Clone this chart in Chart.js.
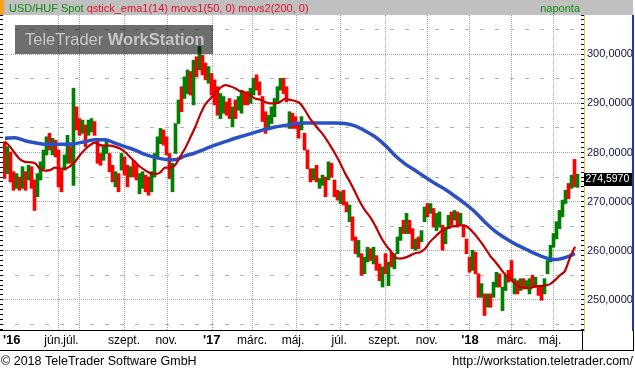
<!DOCTYPE html>
<html>
<head>
<meta charset="utf-8">
<title>USD/HUF Spot</title>
<script src="https://cdn.jsdelivr.net/npm/chart.js@4.4.1/dist/chart.umd.min.js"></script>
<style>
  html, body { margin: 0; padding: 0; background: #fff; }
  canvas { display: block; }
</style>
</head>
<body>
<canvas id="usdhuf" width="635" height="368"></canvas>
<script>
// one bar = 3 trading days, drawn from its first to its last quote
const barOpen = [
  282.2, 275.7, 280.1, 276.1, 272.7, 275.0, 272.7, 276.1, 274.4, 277.1,
  274.4, 271.0, 274.4, 276.7, 279.5, 283.9, 279.5, 282.5, 280.5, 276.4,
  276.4, 277.8, 281.2, 273.3, 289.3, 286.9, 283.9, 285.6, 283.5, 284.2,
  286.3, 282.5, 279.8, 278.4, 279.8, 279.8, 277.4, 273.0, 275.7, 276.4,
  279.1, 277.4, 275.0, 278.4, 277.4, 271.6, 272.7, 275.4, 275.0, 272.0,
  275.0, 279.1, 281.8, 284.6, 283.2, 279.8, 272.0, 279.8, 285.9, 293.4,
  291.0, 292.0, 296.5, 289.7, 299.5, 296.8, 299.8, 298.2, 294.1, 296.1,
  294.8, 293.4, 286.9, 288.0, 290.3, 291.0, 285.2, 290.7, 288.6, 288.0,
  292.0, 292.4, 290.0, 291.7, 295.8, 294.4, 291.4, 288.3, 284.6, 285.9,
  287.3, 290.0, 292.7, 295.1, 293.4, 284.9, 288.0, 287.3, 285.9, 284.6,
  283.9, 280.5, 276.7, 274.4, 277.4, 272.7, 273.3, 275.0, 274.4, 277.8,
  274.4, 272.3, 269.6, 272.3, 269.9, 265.9, 266.9, 262.8, 258.7, 259.4,
  255.3, 257.7, 260.4, 257.3, 259.0, 257.3, 252.6, 259.4, 252.9, 259.7,
  256.3, 259.4, 262.1, 266.2, 263.5, 266.2, 264.5, 260.1, 262.8, 261.8,
  265.9, 269.6, 267.6, 268.6, 264.1, 264.8, 265.2, 261.4, 264.5, 267.9,
  266.2, 267.9, 265.5, 265.2, 262.4, 258.7, 256.0, 259.7, 255.3, 250.5,
  251.2, 248.5, 251.2, 250.5, 252.6, 255.3, 247.8, 251.9, 256.0, 258.0,
  251.2, 253.9, 251.9, 254.3, 252.2, 251.2, 255.0, 252.6, 252.9, 252.6,
  251.2, 255.3, 257.7, 260.7, 262.4, 264.5, 266.9, 269.6, 273.7, 272.7,
  278.6, 272.9
];
const barClose = [
  274.7, 281.2, 274.0, 272.3, 275.7, 272.3, 277.1, 272.3, 277.4, 272.7,
  268.2, 275.7, 278.1, 280.5, 283.2, 280.5, 282.9, 279.1, 273.0, 272.0,
  279.5, 283.5, 277.8, 293.1, 284.6, 283.5, 286.6, 281.2, 286.6, 286.9,
  283.5, 277.8, 277.4, 281.2, 282.5, 276.1, 274.0, 276.1, 272.0, 279.8,
  275.4, 273.0, 277.1, 275.0, 274.4, 275.7, 276.1, 272.0, 271.3, 276.1,
  279.8, 283.2, 284.9, 281.5, 279.5, 274.7, 277.8, 285.9, 290.7, 288.3,
  295.4, 296.8, 291.7, 298.8, 295.4, 301.6, 295.8, 294.8, 297.5, 291.7,
  289.7, 287.6, 292.0, 291.4, 287.6, 286.9, 289.3, 286.9, 291.4, 292.7,
  289.7, 289.7, 293.1, 295.1, 292.7, 291.7, 286.3, 283.9, 287.6, 289.3,
  291.0, 293.4, 295.1, 292.0, 290.3, 288.3, 284.9, 284.9, 282.9, 287.3,
  280.5, 276.7, 274.0, 276.7, 274.0, 274.7, 275.4, 271.0, 278.1, 275.0,
  271.0, 270.3, 272.0, 269.3, 267.9, 269.3, 262.1, 259.4, 262.1, 255.0,
  258.7, 260.7, 258.0, 260.7, 256.0, 253.9, 256.7, 255.3, 257.7, 256.7,
  259.4, 262.8, 264.8, 263.5, 267.6, 263.5, 260.4, 262.4, 260.4, 264.1,
  268.9, 266.9, 269.6, 264.8, 267.6, 267.9, 260.1, 264.8, 267.2, 265.2,
  268.2, 264.8, 267.6, 262.8, 259.4, 255.6, 260.1, 255.3, 250.5, 253.3,
  246.8, 251.2, 248.5, 253.6, 255.6, 252.6, 252.6, 255.0, 253.6, 253.9,
  254.3, 251.2, 254.3, 252.2, 253.9, 254.3, 252.6, 254.6, 250.9, 249.9,
  254.3, 258.0, 261.1, 263.5, 265.9, 268.2, 270.3, 272.3, 270.6, 275.4,
  273.0, 275.6
];
// movs1(50) read every 5 trading days, movs2(200) every 10
const movs50 = [
  282.2, 281.2, 279.8, 278.6, 278.1, 278.0, 277.8, 276.7, 276.3, 276.4,
  276.9, 276.7, 276.7, 277.2, 278.1, 279.5, 280.6, 281.5, 282.0, 281.5,
  281.4, 281.4, 281.2, 280.8, 280.1, 279.1, 278.1, 277.1, 276.4, 275.8,
  275.6, 275.9, 276.9, 276.9, 277.4, 279.1, 280.8, 282.9, 285.1, 287.6,
  289.7, 290.9, 292.0, 293.1, 293.7, 293.5, 293.1, 292.5, 292.2, 291.7,
  291.0, 290.8, 290.3, 290.0, 290.0, 290.3, 290.9, 290.7, 290.5, 290.0,
  288.6, 286.9, 285.6, 284.4, 283.1, 281.5, 279.8, 277.9, 275.8, 274.0,
  272.0, 269.9, 268.2, 266.9, 265.2, 263.1, 261.4, 260.1, 258.7, 258.4,
  258.6, 259.0, 259.5, 259.7, 260.4, 261.8, 262.8, 263.8, 264.3, 264.8,
  265.0, 265.2, 265.1, 264.4, 263.3, 262.0, 260.6, 259.0, 257.8, 256.5,
  255.2, 254.3, 253.3, 252.6, 252.5, 252.4, 252.7, 252.8, 252.9, 253.2,
  254.0, 255.0, 255.9, 258.6, 260.8
];
const movs200 = [
  282.9, 283.0, 282.4, 282.0, 281.7, 281.7, 281.7, 281.8, 282.2, 282.6,
  282.6, 281.9, 281.2, 280.5, 279.6, 279.0, 278.6, 278.5, 279.3, 279.9,
  280.7, 281.5, 282.2, 282.9, 283.5, 284.1, 284.7, 285.2, 285.5, 285.9,
  286.0, 286.0, 286.0, 286.0, 285.9, 285.4, 284.4, 283.2, 281.5, 279.4,
  277.7, 276.4, 275.0, 273.7, 272.5, 271.1, 269.6, 267.9, 265.8, 264.0,
  262.6, 261.4, 260.4, 259.4, 258.6, 258.2, 258.6, 259.4
];
const lastPrice = 274.597;

// trading-day index of month starts and of the axis captions
const gridDays = [55, 77, 121, 164, 209, 249, 293, 337, 382, 424, 466, 508, 550];
const labelDays = [8.7, 51, 68, 121, 163.3, 208.7, 249, 290, 336.2, 381.2, 423.7, 467, 508.7, 547];
const labelTexts = ["'16", 'jún.', 'júl.', 'szept.', 'nov.', "'17", 'márc.', 'máj.', 'júl.', 'szept.', 'nov.', "'18", 'márc.', 'máj.'];
const priceTicks = [250, 260, 270, 280, 290, 300];
const halfTicks = [245, 255, 265, 275, 285, 295, 305];

const barDays = 3;
const maStart = 2;
const yMin = 243.65, yMax = 308;
const FONT = "'Liberation Sans', Arial, sans-serif";
Chart.defaults.font.family = FONT;

const unitTicks = [];
for (let v = 244; v <= 308; v++) unitTicks.push(v);

function fixSize(size) {
  return (s) => {
    if (s.isHorizontal()) s.height = size; else s.width = size;
    s.paddingLeft = s.paddingRight = s.paddingTop = s.paddingBottom = 0;
  };
}
function useTicks(values) {
  return (s) => { s.ticks = values.map((v) => ({ value: v })); };
}

const candles = barOpen.map((o, i) => ({ x: i * barDays + barDays / 2, y: [o, barClose[i]] }));
const barColors = barOpen.map((o, i) => (barClose[i] >= o ? '#008000' : '#ff0000'));

const decor = {
  id: 'decor',
  beforeDraw(chart) {
    const c = chart.ctx;
    c.save();
    c.fillStyle = '#ffffff';
    c.fillRect(0, 0, chart.width, chart.height);
    c.fillStyle = '#c0c0c0';
    c.fillRect(0, 0, 633, 15);
    c.fillStyle = '#f4a21c';
    c.fillRect(0, 0, 4, 15);
    c.font = '11px ' + FONT;
    c.textBaseline = 'alphabetic';
    c.fillStyle = '#138a13';
    c.fillText('USD/HUF Spot', 9, 12);
    const w = c.measureText('USD/HUF Spot ').width;
    c.fillStyle = '#e4112b';
    c.fillText('qstick_ema1(14) movs1(50, 0) movs2(200, 0)', 9 + w, 12);
    c.fillStyle = '#138a13';
    c.textAlign = 'right';
    c.fillText('naponta', 580, 12);
    c.font = '12.5px ' + FONT;
    c.fillStyle = '#000';
    c.textAlign = 'left';
    c.fillText('\u00a9 2018 TeleTrader Software GmbH', 1, 365);
    c.textAlign = 'right';
    c.fillText('http://workstation.teletrader.com/', 633, 365);
    c.restore();
  },
  afterDatasetsDraw(chart) {
    const c = chart.ctx;
    c.save();
    // watermark over the plot
    c.fillStyle = 'rgba(0,0,0,0.57)';
    c.fillRect(15, 25, 198, 29);
    c.fillStyle = '#c6c6c6';
    c.font = '16.5px ' + FONT;
    c.textBaseline = 'alphabetic';
    c.fillText('TeleTrader ', 25, 45);
    const w = c.measureText('TeleTrader ').width;
    c.font = 'bold 16.5px ' + FONT;
    c.fillText('WorkStation', 25 + w, 45);
    // last quote marker on the price axis
    const py = Math.round(chart.scales.y.getPixelForValue(lastPrice));
    c.fillStyle = '#000';
    c.fillRect(584, py - 6, 48, 13);
    c.fillStyle = '#fff';
    c.font = '10.5px ' + FONT;
    c.textBaseline = 'middle';
    c.fillText(lastPrice.toFixed(4).replace('.', ','), 585.5, py + 0.5);
    c.restore();
  },
  afterDraw(chart) {
    const c = chart.ctx;
    c.save();
    c.strokeStyle = '#000';
    c.lineWidth = 1;
    c.beginPath();
    c.moveTo(0, 330.5); c.lineTo(584, 330.5);
    c.moveTo(0, 350.5); c.lineTo(634, 350.5);
    c.moveTo(582.5, 331); c.lineTo(582.5, 351);
    c.moveTo(633.5, 331); c.lineTo(633.5, 351);
    c.stroke();
    c.strokeStyle = '#2136a8';
    c.lineWidth = 2;
    c.beginPath();
    c.moveTo(633, 15); c.lineTo(633, 331);
    c.stroke();
    c.restore();
  }
};

new Chart(document.getElementById('usdhuf'), {
  type: 'bar',
  data: {
    datasets: [
      {
        type: 'line',
        label: 'movs1(50, 0)',
        data: movs50.map((v, i) => ({ x: maStart + i * 5, y: v })),
        borderColor: '#c00000',
        borderWidth: 2.2,
        pointRadius: 0,
        cubicInterpolationMode: 'monotone',
        xAxisID: 'x',
        yAxisID: 'y',
        order: 1
      },
      {
        type: 'line',
        label: 'movs2(200, 0)',
        data: movs200.map((v, i) => ({ x: maStart + i * 10, y: v })),
        borderColor: '#2b50c4',
        borderWidth: 3.5,
        pointRadius: 0,
        cubicInterpolationMode: 'monotone',
        xAxisID: 'x',
        yAxisID: 'y',
        order: 2
      },
      {
        label: 'USD/HUF Spot',
        data: candles,
        backgroundColor: barColors,
        borderWidth: 0,
        barThickness: barDays,
        xAxisID: 'x',
        yAxisID: 'y',
        order: 3
      }
    ]
  },
  options: {
    responsive: false,
    animation: false,
    devicePixelRatio: 1,
    events: [],
    layout: { padding: { top: 15, bottom: 17, left: 0, right: 2 } },
    plugins: { legend: { display: false }, tooltip: { enabled: false } },
    scales: {
      x: {
        type: 'linear', position: 'bottom', min: 0, max: 578, offset: false,
        afterBuildTicks: useTicks(gridDays),
        ticks: { display: false },
        grid: { color: '#a4a4a4', drawTicks: false, offset: false },
        border: { display: false, dash: [1, 1] },
        afterFit: fixSize(0)
      },
      xLab: {
        type: 'linear', position: 'bottom', min: 0, max: 578, offset: false,
        afterBuildTicks: useTicks(labelDays),
        grid: { display: false, drawTicks: false, offset: false },
        border: { display: false },
        ticks: {
          autoSkip: false, maxRotation: 0, padding: 2, color: '#000',
          callback: (v, i) => labelTexts[i],
          font: (ctx) => (labelTexts[ctx.index] && labelTexts[ctx.index][0] === "'")
            ? { family: FONT, size: 13, weight: 'bold' }
            : { family: FONT, size: 12 }
        },
        afterFit: fixSize(20)
      },
      yMinor: {
        type: 'linear', position: 'right', min: yMin, max: yMax,
        afterBuildTicks: useTicks(unitTicks),
        ticks: { display: false },
        grid: { drawOnChartArea: false, drawTicks: true, tickLength: 3, tickColor: '#000' },
        border: { display: false },
        afterFit: fixSize(3)
      },
      y: {
        type: 'linear', position: 'right', min: yMin, max: yMax,
        afterBuildTicks: useTicks(priceTicks),
        grid: { color: '#a4a4a4', drawTicks: false },
        border: { display: true, color: '#e6c247', width: 1, dash: [1, 1] },
        ticks: {
          autoSkip: false, padding: 3, color: '#12124a', font: { family: FONT, size: 11 },
          callback: (v) => v.toFixed(4).replace('.', ',')
        },
        afterFit: fixSize(49)
      },
      yMid: {
        type: 'linear', position: 'right', min: yMin, max: yMax,
        afterBuildTicks: useTicks(halfTicks),
        ticks: { display: false },
        grid: { color: '#b4b4b4', drawTicks: false },
        border: { display: false, dash: [4, 11], dashOffset: 3 },
        afterFit: fixSize(0)
      },
      yLeft: {
        type: 'linear', position: 'left', min: yMin, max: yMax,
        afterBuildTicks: useTicks(unitTicks),
        ticks: { display: false },
        grid: { drawOnChartArea: false, drawTicks: true, tickLength: 3, tickColor: '#000' },
        border: { display: false },
        afterFit: fixSize(3)
      }
    }
  },
  plugins: [decor]
});
</script>
</body>
</html>
